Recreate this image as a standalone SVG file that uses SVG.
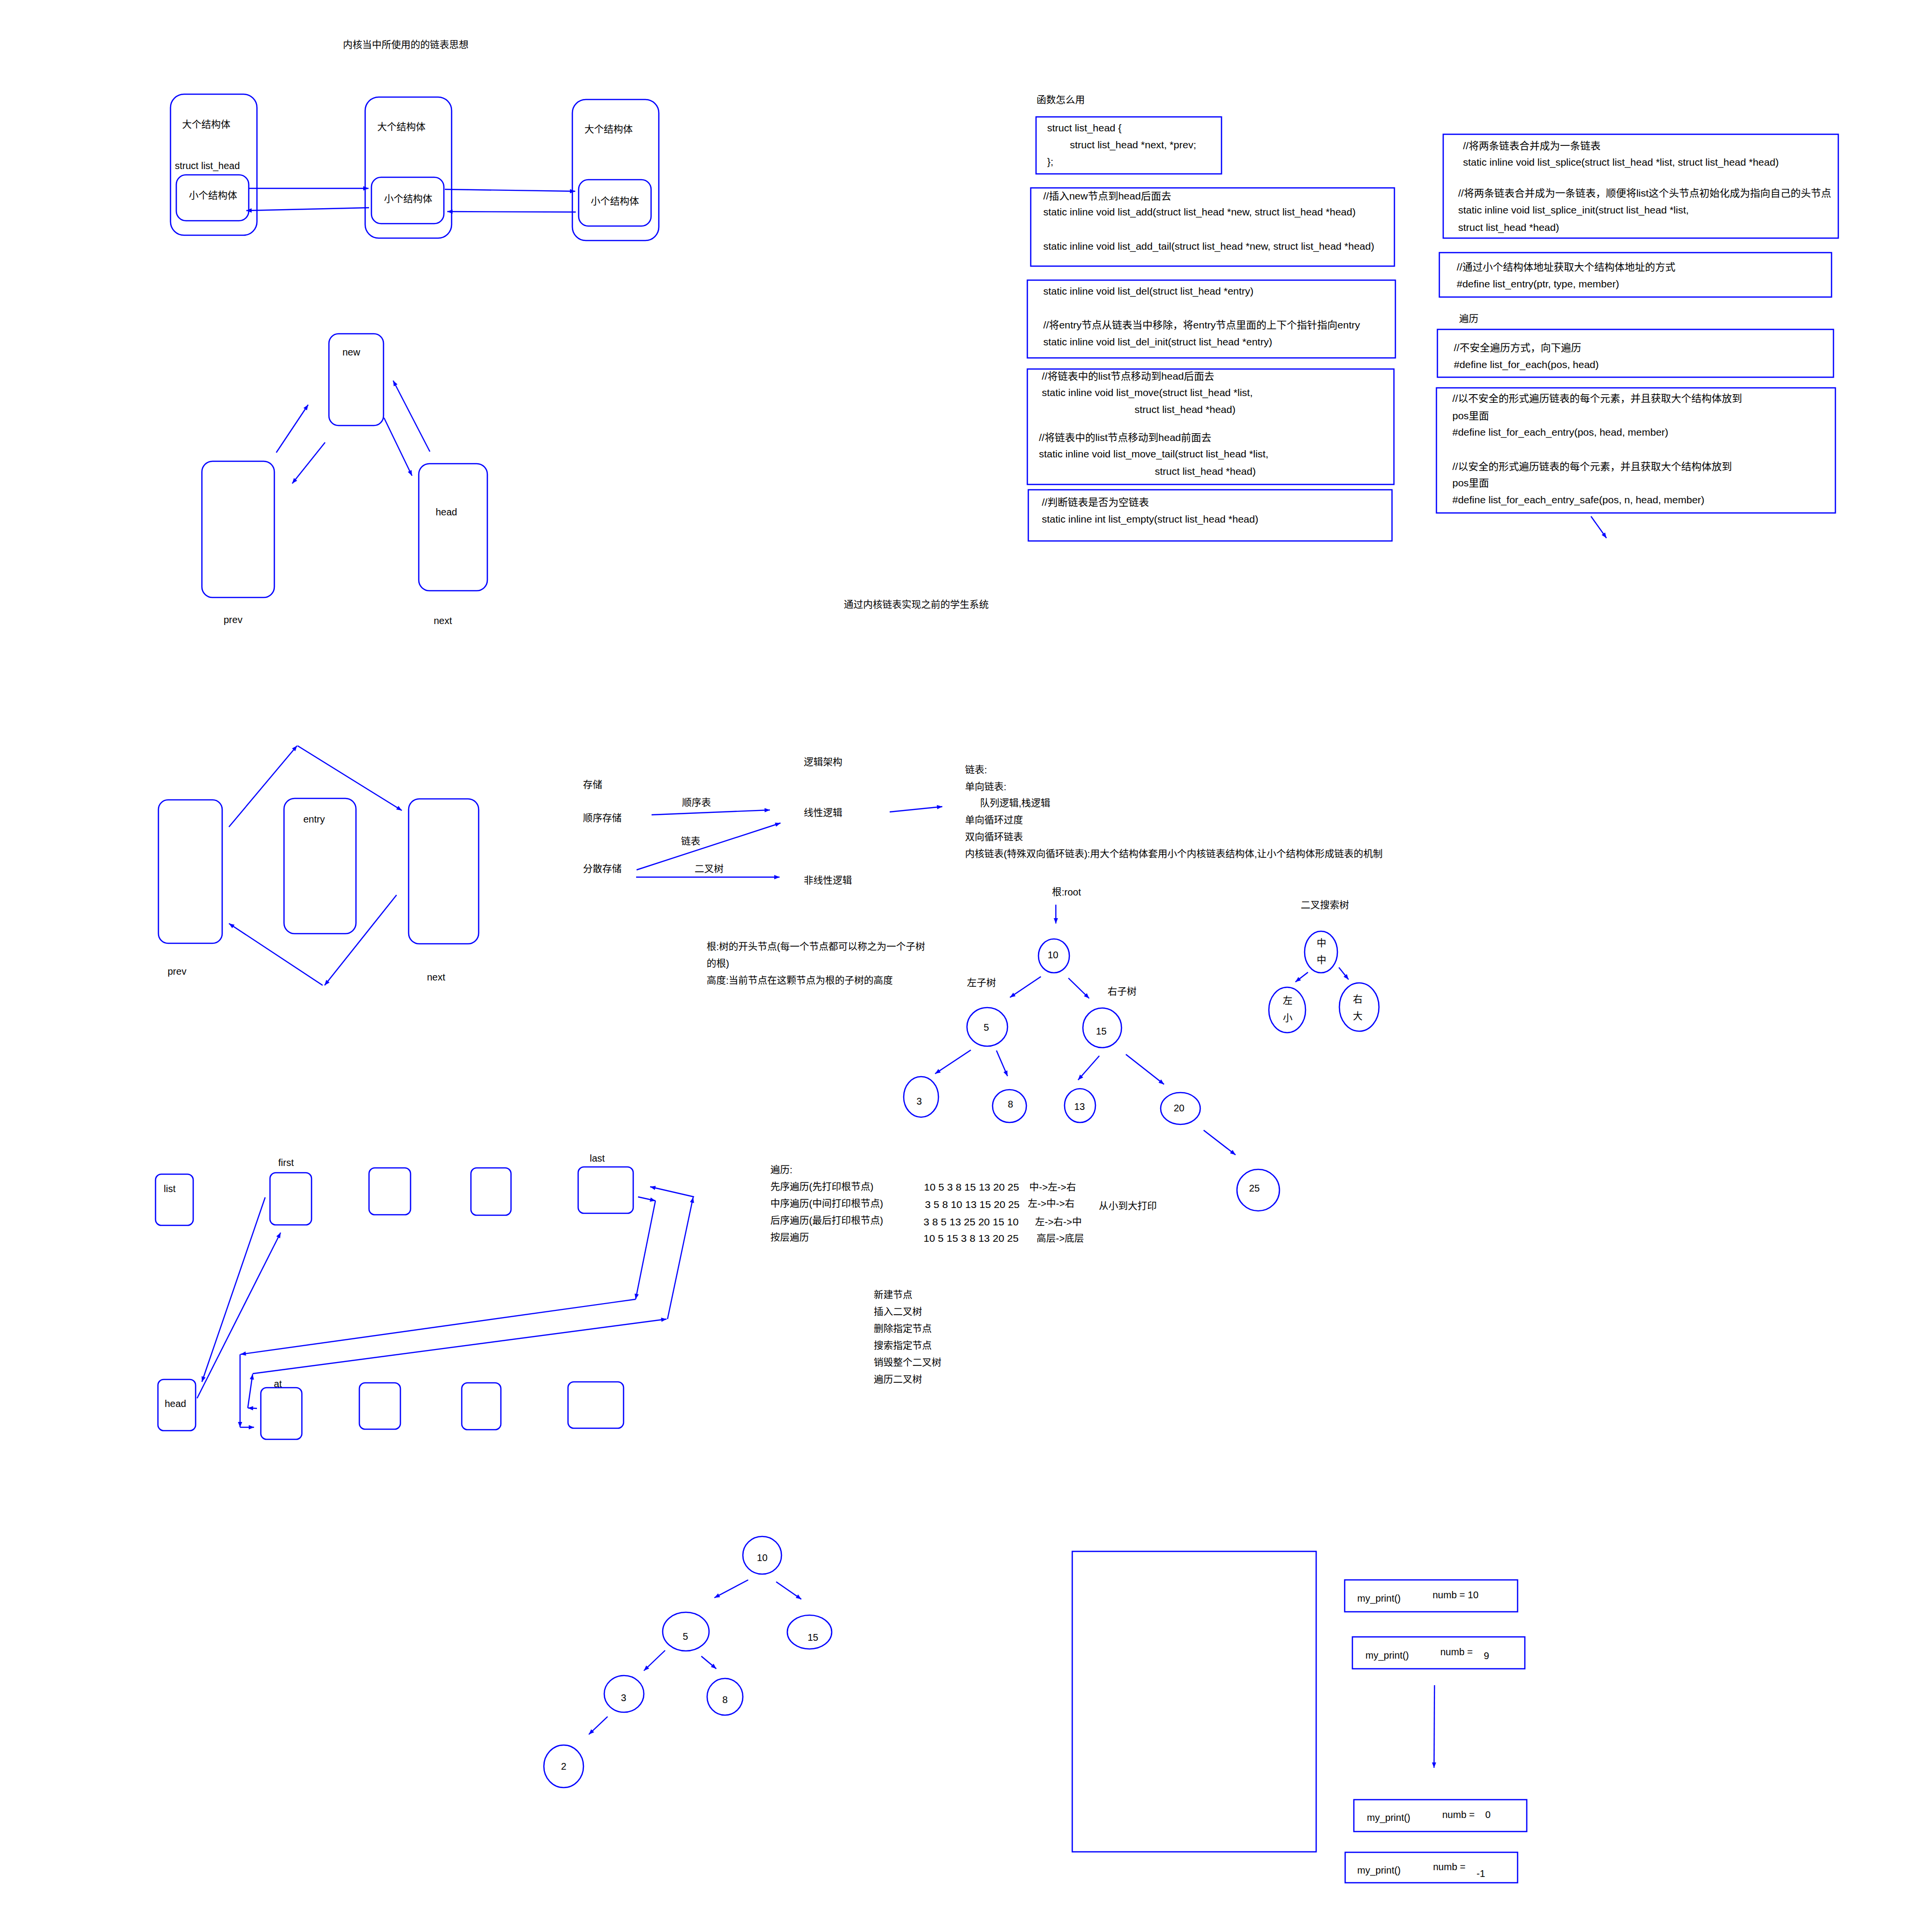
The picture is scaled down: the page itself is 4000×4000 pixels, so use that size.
<svg xmlns="http://www.w3.org/2000/svg" width="4000" height="4000" viewBox="0 0 4000 4000">
<style>
.b{fill:none;stroke:#0000ff;stroke-width:2.6}
.c{fill:none;stroke:#0000ff;stroke-width:2.4;marker-end:url(#ah)}
text{font-family:"Liberation Sans","Noto Sans CJK SC",sans-serif;font-size:20px;fill:#000}
.code{font-size:21px}
.num{font-size:20px}
.m{text-anchor:middle}
</style>
<defs>
<marker id="ah" viewBox="0 0 10 10" refX="10" refY="5" markerWidth="13" markerHeight="11" markerUnits="userSpaceOnUse" orient="auto">
<path d="M0,1 L10,5 L0,9 z" fill="#0000ff"/>
</marker>
</defs>
<rect width="4000" height="4000" fill="#ffffff"/>

<!-- Section 1: kernel list idea -->
<text x="710" y="100">内核当中所使用的的链表思想</text>
<g id="big1"><rect class="b" x="353" y="195" width="179" height="292" rx="28"/><text x="377" y="265">大个结构体</text><text x="362" y="350">struct list_head</text></g>
<g id="small1"><rect class="b" x="365" y="362" width="150" height="95" rx="20"/><text x="391" y="412">小个结构体</text></g>
<g id="big2"><rect class="b" x="756" y="201" width="179" height="292" rx="28"/><text x="781" y="270">大个结构体</text></g>
<g id="small2"><rect class="b" x="769" y="367" width="150" height="96" rx="20"/><text x="795" y="419">小个结构体</text></g>
<g id="big3"><rect class="b" x="1185" y="206" width="179" height="292" rx="28"/><text x="1210" y="275">大个结构体</text></g>
<g id="small3"><rect class="b" x="1198" y="372" width="150" height="96" rx="20"/><text x="1223" y="424">小个结构体</text></g>

<!-- Section 2: insert -->
<g id="new"><rect class="b" x="681" y="691" width="113" height="190" rx="20"/><text x="709" y="736">new</text></g>
<g id="prev1"><rect class="b" x="418" y="955" width="150" height="282" rx="22"/><text x="463" y="1290">prev</text></g>
<g id="head1"><rect class="b" x="867" y="960" width="142" height="263" rx="22"/><text x="902" y="1067">head</text><text x="898" y="1292">next</text></g>

<!-- Section 3: delete -->
<g id="prev2"><rect class="b" x="328" y="1656" width="132" height="297" rx="20"/><text x="347" y="2018">prev</text></g>
<g id="entry"><rect class="b" x="588" y="1653" width="149" height="280" rx="22"/><text x="628" y="1703">entry</text></g>
<g id="next2"><rect class="b" x="846" y="1654" width="145" height="300" rx="22"/><text x="884" y="2030">next</text></g>

<!-- Code boxes -->
<text x="2146" y="214">函数怎么用</text>
<g id="code-struct"><rect class="b" x="2145" y="242" width="384" height="118"/>
<text class="code" x="2168" y="272">struct list_head {</text>
<text class="code" x="2215" y="307">struct list_head *next, *prev;</text>
<text class="code" x="2168" y="342">};</text></g>
<g id="code-add"><rect class="b" x="2134" y="389" width="753" height="162"/>
<text class="code" x="2160" y="413">//插入new节点到head后面去</text>
<text class="code" x="2160" y="446">static inline void list_add(struct list_head *new, struct list_head *head)</text>
<text class="code" x="2160" y="517">static inline void list_add_tail(struct list_head *new, struct list_head *head)</text></g>
<g id="code-del"><rect class="b" x="2127" y="580" width="762" height="161"/>
<text class="code" x="2160" y="610">static inline void list_del(struct list_head *entry)</text>
<text class="code" x="2160" y="680">//将entry节点从链表当中移除，将entry节点里面的上下个指针指向entry</text>
<text class="code" x="2160" y="715">static inline void list_del_init(struct list_head *entry)</text></g>
<g id="code-move"><rect class="b" x="2127" y="764" width="759" height="239"/>
<text class="code" x="2157" y="786">//将链表中的list节点移动到head后面去</text>
<text class="code" x="2157" y="820">static inline void list_move(struct list_head *list,</text>
<text class="code" x="2349" y="855">struct list_head *head)</text>
<text class="code" x="2151" y="913">//将链表中的list节点移动到head前面去</text>
<text class="code" x="2151" y="947">static inline void list_move_tail(struct list_head *list,</text>
<text class="code" x="2391" y="983">struct list_head *head)</text></g>
<g id="code-empty"><rect class="b" x="2129" y="1014" width="753" height="106"/>
<text class="code" x="2157" y="1047">//判断链表是否为空链表</text>
<text class="code" x="2157" y="1082">static inline int list_empty(struct list_head *head)</text></g>

<g id="code-splice"><rect class="b" x="2988" y="278" width="818" height="215"/>
<text class="code" x="3029" y="309">//将两条链表合并成为一条链表</text>
<text class="code" x="3029" y="343">static inline void list_splice(struct list_head *list, struct list_head *head)</text>
<text class="code" x="3019" y="407">//将两条链表合并成为一条链表，顺便将list这个头节点初始化成为指向自己的头节点</text>
<text class="code" x="3019" y="442">static inline void list_splice_init(struct list_head *list,</text>
<text class="code" x="3019" y="478">struct list_head *head)</text></g>
<g id="code-entry"><rect class="b" x="2980" y="523" width="812" height="92"/>
<text class="code" x="3016" y="560">//通过小个结构体地址获取大个结构体地址的方式</text>
<text class="code" x="3016" y="595">#define list_entry(ptr, type, member)</text></g>
<text x="3021" y="667">遍历</text>
<g id="code-each"><rect class="b" x="2976" y="682" width="820" height="99"/>
<text class="code" x="3010" y="727">//不安全遍历方式，向下遍历</text>
<text class="code" x="3010" y="762">#define list_for_each(pos, head)</text></g>
<g id="code-each-entry"><rect class="b" x="2974" y="803" width="826" height="259"/>
<text class="code" x="3007" y="832">//以不安全的形式遍历链表的每个元素，并且获取大个结构体放到</text>
<text class="code" x="3007" y="868">pos里面</text>
<text class="code" x="3007" y="902">#define list_for_each_entry(pos, head, member)</text>
<text class="code" x="3007" y="973">//以安全的形式遍历链表的每个元素，并且获取大个结构体放到</text>
<text class="code" x="3007" y="1007">pos里面</text>
<text class="code" x="3007" y="1042">#define list_for_each_entry_safe(pos, n, head, member)</text></g>

<!-- Data structure notes -->
<text x="1747" y="1259">通过内核链表实现之前的学生系统</text>
<text x="1664" y="1585">逻辑架构</text>
<text x="1207" y="1632">存储</text>
<text x="1412" y="1669">顺序表</text>
<text x="1207" y="1701">顺序存储</text>
<text x="1664" y="1690">线性逻辑</text>
<text x="1410" y="1749">链表</text>
<text x="1207" y="1806">分散存储</text>
<text x="1438" y="1806">二叉树</text>
<text x="1664" y="1830">非线性逻辑</text>
<text x="1998" y="1601">链表:</text>
<text x="1998" y="1636">单向链表:</text>
<text x="2029" y="1670">队列逻辑,栈逻辑</text>
<text x="1998" y="1705">单向循环过度</text>
<text x="1998" y="1740">双向循环链表</text>
<text x="1998" y="1775">内核链表(特殊双向循环链表):用大个结构体套用小个内核链表结构体,让小个结构体形成链表的机制</text>

<!-- Tree notes -->
<text x="2178" y="1854">根:root</text>
<text x="1463" y="1967">根:树的开头节点(每一个节点都可以称之为一个子树</text>
<text x="1463" y="2002">的根)</text>
<text x="1463" y="2037">高度:当前节点在这颗节点为根的子树的高度</text>
<text x="2002" y="2042">左子树</text>
<text x="2293" y="2060">右子树</text>

<g id="t10"><ellipse class="b" cx="2182" cy="1979" rx="32" ry="35"/><text class="m" x="2180" y="1984">10</text></g>
<g id="t5"><ellipse class="b" cx="2044" cy="2126" rx="42" ry="40"/><text class="m" x="2042" y="2134">5</text></g>
<g id="t15"><ellipse class="b" cx="2282" cy="2128" rx="40" ry="41"/><text class="m" x="2280" y="2142">15</text></g>
<g id="t3"><ellipse class="b" cx="1907" cy="2271" rx="36" ry="42"/><text class="m" x="1903" y="2287">3</text></g>
<g id="t8"><ellipse class="b" cx="2090" cy="2290" rx="35" ry="34"/><text class="m" x="2092" y="2293">8</text></g>
<g id="t13"><ellipse class="b" cx="2236" cy="2289" rx="32" ry="35"/><text class="m" x="2235" y="2298">13</text></g>
<g id="t20"><ellipse class="b" cx="2444" cy="2295" rx="41" ry="33"/><text class="m" x="2441" y="2301">20</text></g>
<g id="t25"><ellipse class="b" cx="2605" cy="2464" rx="44" ry="43"/><text class="m" x="2597" y="2467">25</text></g>

<!-- BST -->
<text x="2693" y="1881">二叉搜索树</text>
<g id="bst-mid"><ellipse class="b" cx="2735" cy="1971" rx="34" ry="43"/><text class="m" x="2736" y="1960">中</text><text class="m" x="2736" y="1995">中</text></g>
<g id="bst-left"><ellipse class="b" cx="2665" cy="2091" rx="38" ry="47"/><text class="m" x="2666" y="2079">左</text><text class="m" x="2666" y="2115">小</text></g>
<g id="bst-right"><ellipse class="b" cx="2814" cy="2085" rx="41" ry="50"/><text class="m" x="2811" y="2076">右</text><text class="m" x="2811" y="2111">大</text></g>

<!-- Traversal -->
<text x="1595" y="2429">遍历:</text>
<text x="1595" y="2464">先序遍历(先打印根节点)</text>
<text x="1595" y="2499">中序遍历(中间打印根节点)</text>
<text x="1595" y="2534">后序遍历(最后打印根节点)</text>
<text x="1595" y="2569">按层遍历</text>
<text class="num" x="1913" y="2465" textLength="197" lengthAdjust="spacingAndGlyphs">10 5 3 8 15 13 20 25</text>
<text class="num" x="1915" y="2501" textLength="196" lengthAdjust="spacingAndGlyphs">3 5 8 10 13 15 20 25</text>
<text class="num" x="1912" y="2537" textLength="197" lengthAdjust="spacingAndGlyphs">3 8 5 13 25 20 15 10</text>
<text class="num" x="1912" y="2571" textLength="197" lengthAdjust="spacingAndGlyphs">10 5 15 3 8 13 20 25</text>
<text x="2131" y="2465">中-&gt;左-&gt;右</text>
<text x="2128" y="2499">左-&gt;中-&gt;右</text>
<text x="2143" y="2537">左-&gt;右-&gt;中</text>
<text x="2146" y="2571">高层-&gt;底层</text>
<text x="2275" y="2504">从小到大打印</text>
<text x="1809" y="2688">新建节点</text>
<text x="1809" y="2723">插入二叉树</text>
<text x="1809" y="2758">删除指定节点</text>
<text x="1809" y="2793">搜索指定节点</text>
<text x="1809" y="2828">销毁整个二叉树</text>
<text x="1809" y="2863">遍历二叉树</text>

<!-- Splice lists -->
<g id="list"><rect class="b" x="322" y="2431" width="78" height="106" rx="12"/><text x="339" y="2468">list</text></g>
<g id="first"><rect class="b" x="559" y="2428" width="86" height="108" rx="12"/><text x="576" y="2414">first</text></g>
<g id="top3"><rect class="b" x="764" y="2418" width="86" height="97" rx="12"/></g>
<g id="top4"><rect class="b" x="975" y="2418" width="83" height="98" rx="12"/></g>
<g id="last"><rect class="b" x="1197" y="2416" width="114" height="96" rx="12"/><text x="1221" y="2405">last</text></g>
<g id="head2"><rect class="b" x="327" y="2856" width="78" height="106" rx="12"/><text x="341" y="2913">head</text></g>
<g id="at"><rect class="b" x="540" y="2873" width="85" height="107" rx="12"/><text x="567" y="2872">at</text></g>
<g id="bot3"><rect class="b" x="744" y="2863" width="85" height="96" rx="12"/></g>
<g id="bot4"><rect class="b" x="956" y="2863" width="81" height="97" rx="12"/></g>
<g id="bot5"><rect class="b" x="1176" y="2861" width="115" height="96" rx="12"/></g>

<!-- Bottom tree -->
<g id="b10"><ellipse class="b" cx="1578" cy="3220" rx="40" ry="39"/><text class="m" x="1578" y="3232">10</text></g>
<g id="b5"><ellipse class="b" cx="1420" cy="3378" rx="48" ry="40"/><text class="m" x="1419" y="3395">5</text></g>
<g id="b15"><ellipse class="b" cx="1676" cy="3379" rx="46" ry="35"/><text class="m" x="1683" y="3397">15</text></g>
<g id="b3"><ellipse class="b" cx="1292" cy="3507" rx="41" ry="38"/><text class="m" x="1291" y="3522">3</text></g>
<g id="b8"><ellipse class="b" cx="1501" cy="3513" rx="37" ry="38"/><text class="m" x="1501" y="3526">8</text></g>
<g id="b2"><ellipse class="b" cx="1167" cy="3657" rx="41" ry="44"/><text class="m" x="1167" y="3664">2</text></g>

<!-- Stack frames -->
<g id="stack"><rect class="b" x="2220" y="3212" width="505" height="622"/></g>
<g id="frame1"><rect class="b" x="2784" y="3271" width="358" height="66"/><text x="2810" y="3316">my_print()</text><text x="2966" y="3309">numb = 10</text></g>
<g id="frame2"><rect class="b" x="2800" y="3389" width="357" height="66"/><text x="2827" y="3434">my_print()</text><text x="2982" y="3427">numb =</text><text x="3072" y="3435">9</text></g>
<g id="frame3"><rect class="b" x="2803" y="3726" width="358" height="66"/><text x="2830" y="3770">my_print()</text><text x="2986" y="3764">numb =</text><text x="3075" y="3764">0</text></g>
<g id="frame4"><rect class="b" x="2785" y="3835" width="357" height="63"/><text x="2810" y="3879">my_print()</text><text x="2967" y="3872">numb =</text><text x="3057" y="3886">-1</text></g>

<!-- Connectors -->
<g id="connectors">
<line class="c" x1="515" y1="390" x2="763" y2="390"/>
<line class="c" x1="764" y1="430" x2="510" y2="436"/>
<line class="c" x1="921" y1="392" x2="1191" y2="396"/>
<line class="c" x1="1192" y1="439" x2="926" y2="438"/>

<line class="c" x1="572" y1="937" x2="638" y2="838"/>
<line class="c" x1="673" y1="916" x2="605" y2="1001"/>
<line class="c" x1="795" y1="865" x2="853" y2="985"/>
<line class="c" x1="890" y1="935" x2="814" y2="788"/>

<line class="c" x1="474" y1="1712" x2="615" y2="1544"/>
<line class="c" x1="616" y1="1544" x2="832" y2="1678"/>
<line class="c" x1="821" y1="1853" x2="672" y2="2040"/>
<line class="c" x1="668" y1="2040" x2="474" y2="1912"/>

<line class="c" x1="3294" y1="1069" x2="3326" y2="1114"/>

<line class="c" x1="1349" y1="1687" x2="1594" y2="1677"/>
<line class="c" x1="1318" y1="1801" x2="1616" y2="1704"/>
<line class="c" x1="1317" y1="1816" x2="1614" y2="1816"/>
<line class="c" x1="1842" y1="1681" x2="1951" y2="1670"/>

<line class="c" x1="2186" y1="1873" x2="2186" y2="1912"/>
<line class="c" x1="2155" y1="2022" x2="2091" y2="2065"/>
<line class="c" x1="2212" y1="2025" x2="2255" y2="2067"/>
<line class="c" x1="2010" y1="2174" x2="1936" y2="2223"/>
<line class="c" x1="2063" y1="2175" x2="2086" y2="2228"/>
<line class="c" x1="2276" y1="2186" x2="2232" y2="2236"/>
<line class="c" x1="2331" y1="2183" x2="2410" y2="2245"/>
<line class="c" x1="2492" y1="2340" x2="2558" y2="2391"/>

<line class="c" x1="2708" y1="2013" x2="2682" y2="2033"/>
<line class="c" x1="2772" y1="2003" x2="2792" y2="2028"/>

<line class="c" x1="549" y1="2479" x2="418" y2="2861"/>
<line class="c" x1="408" y1="2895" x2="581" y2="2552"/>
<line class="c" x1="1321" y1="2478" x2="1357" y2="2486"/>
<line class="c" x1="1357" y1="2486" x2="1316" y2="2690"/>
<line class="c" x1="1316" y1="2690" x2="498" y2="2804"/>
<line class="c" x1="497" y1="2804" x2="497" y2="2955"/>
<line class="c" x1="497" y1="2955" x2="526" y2="2955"/>
<line class="c" x1="532" y1="2916" x2="513" y2="2915"/>
<line class="c" x1="513" y1="2915" x2="523" y2="2845"/>
<line class="c" x1="523" y1="2844" x2="1380" y2="2731"/>
<line class="c" x1="1382" y1="2731" x2="1435" y2="2479"/>
<line class="c" x1="1437" y1="2478" x2="1346" y2="2457"/>

<line class="c" x1="1549" y1="3271" x2="1479" y2="3308"/>
<line class="c" x1="1607" y1="3275" x2="1659" y2="3311"/>
<line class="c" x1="1377" y1="3417" x2="1333" y2="3459"/>
<line class="c" x1="1452" y1="3429" x2="1483" y2="3455"/>
<line class="c" x1="1258" y1="3554" x2="1219" y2="3591"/>

<line class="c" x1="2970" y1="3489" x2="2969" y2="3660"/>
</g>
</svg>
